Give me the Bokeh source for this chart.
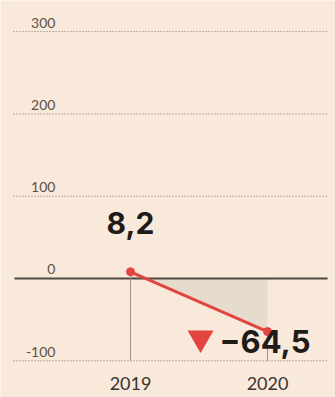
from bokeh.plotting import figure
from bokeh.models import Range1d
from bokeh.core.properties import value
from bokeh.embed import file_html
from bokeh.resources import INLINE

# ---- data ----
years = [2019, 2020]
values = [8.2, -64.5]
value_labels = ["8,2", "\u221264,5"]
y_ticks = [300, 200, 100, 0, -100]
y_tick_labels = ["300", "200", "100", "0", "-100"]
x_tick_labels = ["2019", "2020"]

BG = "#f8e9da"
RED = "#e2443f"

p = figure(width=335, height=397, output_backend="svg", toolbar_location=None,
           x_range=Range1d(2018.051, 2020.496), y_range=Range1d(-144.6, 337.8),
           x_axis_location=None, y_axis_location=None, min_border=0)
p.background_fill_color = BG
p.border_fill_color = BG
p.outline_line_color = None
p.grid.visible = False

# shaded area between line and zero
p.varea(x=years, y1=[0, 0], y2=values, fill_color="#e7dbce")

# dotted gridlines
grid = [t for t in y_ticks if t != 0]
p.segment(x0=[2018.146] * len(grid), x1=[2020.43] * len(grid), y0=grid, y1=grid,
          line_color="#7d7269", line_width=1, line_dash="1 2")
# zero line
p.segment(x0=[2018.153], x1=[2020.438], y0=[0], y1=[0], line_color="#4e4843", line_width=2)

# vertical lines at data points
p.segment(x0=years, x1=years, y0=values, y1=[min(y_ticks)] * 2,
          line_color="#9c948c", line_width=1)

# red line and dots
p.line(years, values, line_color=RED, line_width=3)
p.scatter(years, values, size=8, color=RED)

# tick labels (sit just above their gridline)
p.text(x=[2018.452] * len(y_ticks), y=[t + 7.3 for t in y_ticks], text=y_tick_labels,
       text_align="right", text_baseline="alphabetic", y_offset=-3,
       text_font=value("Lato"), text_font_size="14px", text_color="#5d5148")

# year labels
p.text(x=years, y=[-127.5] * 2, text=x_tick_labels, text_align="center",
       text_baseline="alphabetic", text_font=value("Lato"), text_font_size="18px",
       text_color="#3a3330")

# value labels
p.text(x=[years[0]], y=[68.0], text=[value_labels[0]], text_align="center",
       text_baseline="alphabetic", text_font=value("Inter"), text_font_style="bold",
       text_font_size="30px", text_color="#1f1b19")
p.text(x=[2020.314], y=[-76.5], text=[value_labels[1]], text_align="right",
       text_baseline="alphabetic", text_font=value("Inter"), text_font_style="bold",
       text_font_size="31px", text_color="#1f1b19")

# down triangle
p.scatter(x=[2019.511], y=[-72.3], marker="inverted_triangle", size=26,
          color=RED, line_color=None)

html = file_html(p, INLINE)
html = html.replace("<body>", '<body style="background-color:%s;">' % BG, 1)
open("out.html", "w").write(html)
